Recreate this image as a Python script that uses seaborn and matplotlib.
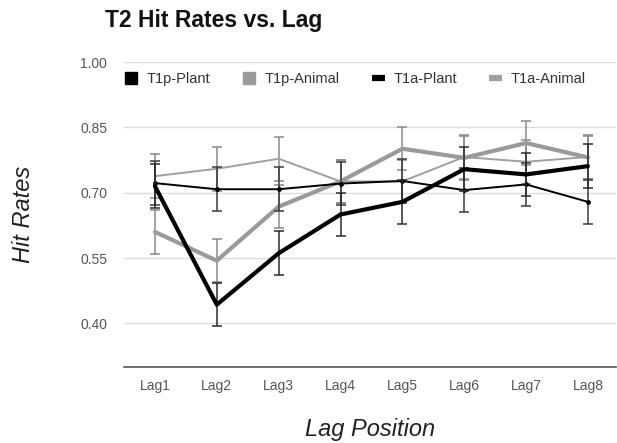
import matplotlib
matplotlib.use("Agg")
import matplotlib.pyplot as plt
import seaborn as sns
import pandas as pd
import numpy as np
from matplotlib.lines import Line2D

lags = ["Lag1", "Lag2", "Lag3", "Lag4", "Lag5", "Lag6", "Lag7", "Lag8"]
t1p_plant = [0.715, 0.443, 0.561, 0.650, 0.679, 0.754, 0.742, 0.761]
t1p_animal = [0.610, 0.544, 0.668, 0.726, 0.801, 0.780, 0.814, 0.781]
t1a_plant = [0.722, 0.708, 0.708, 0.721, 0.727, 0.706, 0.719, 0.679]
t1a_animal = [0.738, 0.755, 0.778, 0.726, 0.726, 0.782, 0.771, 0.782]
err_t1p_plant = [0.05, 0.05, 0.05, 0.05, 0.05, 0.05, 0.05, 0.05]
err_t1p_animal = [0.05, 0.05, 0.05, 0.05, 0.05, 0.05, 0.05, 0.05]
err_t1a_plant = [0.05, 0.05, 0.05, 0.05, 0.05, 0.05, 0.05, 0.05]
err_t1a_animal = [0.05, 0.05, 0.05, 0.05, 0.05, 0.05, 0.05, 0.05]
series_names = ["T1p-Plant", "T1p-Animal", "T1a-Plant", "T1a-Animal"]
yticks = [0.40, 0.55, 0.70, 0.85, 1.00]

sns.set_theme(style="white")
plt.rcParams['font.family'] = ['Liberation Sans', 'DejaVu Sans']

fig = plt.figure(figsize=(6.17, 4.43), dpi=100)
ax = fig.add_axes([0.201, 0.1716, 0.797, 0.6884])

x = np.arange(len(lags))
series = {
    "T1p-Plant": (t1p_plant, err_t1p_plant),
    "T1p-Animal": (t1p_animal, err_t1p_animal),
    "T1a-Plant": (t1a_plant, err_t1a_plant),
    "T1a-Animal": (t1a_animal, err_t1a_animal),
}
style = {
    "T1p-Plant": dict(color="#000000", lw=3.0, ecol="#2a2a2a", z=6, marker=None),
    "T1p-Animal": dict(color="#9a9a9a", lw=3.0, ecol="#8a8a8a", z=4, marker=None),
    "T1a-Plant": dict(color="#000000", lw=1.4, ecol="#3a3a3a", z=5, marker="o"),
    "T1a-Animal": dict(color="#a0a0a0", lw=1.4, ecol="#8a8a8a", z=3, marker=None),
}

rows = []
for name in series_names:
    vals, errs = series[name]
    for i, lag in enumerate(lags):
        rows.append(dict(series=name, lag=lag, x=i, value=vals[i], err=errs[i]))
df = pd.DataFrame(rows)

for name in series_names:
    d = df[df.series == name]
    st = style[name]
    ax.errorbar(d["x"], d["value"], yerr=d["err"], fmt="none", ecolor=st["ecol"],
                elinewidth=1.1, capsize=3.5, capthick=1.1, zorder=st["z"] - 0.5)
    sns.lineplot(data=d, x="x", y="value", ax=ax, color=st["color"], linewidth=st["lw"],
                 marker=st["marker"], markersize=3.5, markeredgewidth=0,
                 zorder=st["z"], legend=False)

ax.set_xlim(-0.5, 7.45)
ax.set_ylim(0.30, 1.00)
ax.set_yticks(yticks)
ax.set_yticklabels([f"{v:.2f}" for v in yticks])
ax.set_xticks(x)
ax.set_xticklabels(lags)
ax.tick_params(axis="both", labelsize=10, colors="#555555", length=0)
ax.tick_params(axis="y", pad=12)
ax.tick_params(axis="x", pad=9)
for v in yticks:
    ax.axhline(v, color="#dddddd", lw=1.0, zorder=0)
for s in ["top", "right", "left"]:
    ax.spines[s].set_visible(False)
ax.spines["bottom"].set_color("#555555")
ax.spines["bottom"].set_linewidth(1.2)
ax.set_xlabel("Lag Position", fontsize=17, style="italic", color="#222222", labelpad=18)
ax.set_ylabel("Hit Rates", fontsize=17, style="italic", color="#222222", labelpad=33)

handles = [
    Line2D([], [], linestyle="none", marker="s", markersize=8, color="#000000"),
    Line2D([], [], linestyle="none", marker="s", markersize=8, color="#9a9a9a"),
    Line2D([], [], color="#000000", lw=4.5, solid_capstyle="butt"),
    Line2D([], [], color="#a0a0a0", lw=4.5, solid_capstyle="butt"),
]
leg = ax.legend(handles, series_names, loc="upper left", bbox_to_anchor=(-0.01, 0.985),
                ncol=4, frameon=False, fontsize=10.5, handlelength=0.9,
                handletextpad=0.6, columnspacing=2.2, borderaxespad=0)
for t in leg.get_texts():
    t.set_color("#333333")

fig.text(0.170, 1 - 27 / 443, "T2 Hit Rates vs. Lag", fontsize=16.5, fontweight="bold",
         va="baseline", ha="left", color="#111111")

fig.savefig("out.png", dpi=100)
